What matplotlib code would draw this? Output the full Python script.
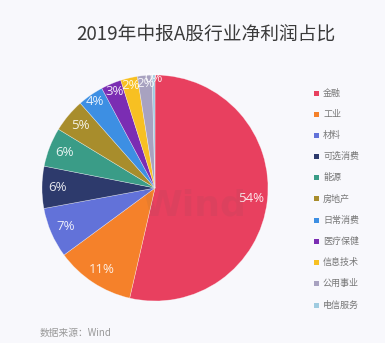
import matplotlib
matplotlib.use('Agg')
import matplotlib.pyplot as plt
import numpy as np
from matplotlib.patches import Rectangle

plt.rcParams['font.family'] = ['Noto Sans CJK SC', 'DejaVu Sans']

# net profit share by sector, 2019 interim reports
sectors = ['金融', '工业', '材料', '可选消费', '能源', '房地产',
           '日常消费', '医疗保健', '信息技术', '公用事业', '电信服务']
shares = [53.6, 11.3, 7.2, 6.0, 5.6, 4.8, 3.7, 2.9, 2.4, 2.1, 0.4]
colors = ['#e8405f', '#f5812a', '#6272d9', '#2d3a6c', '#3a9c87', '#a88d2c',
          '#3d8fe3', '#7b2db3', '#f7c022', '#a8a2c0', '#9fcbe0']

W, H = 385, 349
bg = '#f8f8fc'
fig = plt.figure(figsize=(W / 100, H / 100), dpi=100, facecolor=bg)

cx, cy, r = 155, 188, 113
ax = fig.add_axes([(cx - r) / W, (H - cy - r) / H, 2 * r / W, 2 * r / H])
ax.set_facecolor(bg)
wedges, texts, autotexts = ax.pie(
    shares, colors=colors, startangle=90, counterclock=False,
    autopct='%.0f%%', pctdistance=0.86,
    wedgeprops=dict(linewidth=0.4, edgecolor=(1, 1, 1, 0.5)),
    textprops=dict(color='white', fontsize=9.5))

# push the labels of the thin slices out toward the rim
for w, t, v in zip(wedges, autotexts, shares):
    t.set_alpha(0.88)
    t.set_family(['Open Sans', 'DejaVu Sans'])
    if v < 4.5:
        rad = 0.97 if v < 1 else 0.93
        ang = np.deg2rad((w.theta1 + w.theta2) / 2)
        t.set_position((rad * np.cos(ang), rad * np.sin(ang)))
ax.set_xlim(-1, 1)
ax.set_ylim(-1, 1)
ax.set_aspect('equal')
ax.axis('off')

# faint watermark
fig.text(195 / W, 1 - 205 / H, 'Wind', fontsize=26, color='#555555', alpha=0.08,
         ha='center', va='center', fontweight='bold', family=['DejaVu Sans'])

fig.text(206 / W, 1 - 34 / H, '2019年中报A股行业净利润占比', fontsize=13.5,
         color='#3a3a3a', ha='center', va='center')

# legend
for i, (name, c) in enumerate(zip(sectors, colors)):
    y = 93 + i * 21.2
    fig.add_artist(Rectangle((314 / W, 1 - (y + 2.5) / H), 5 / W, 5 / H,
                             transform=fig.transFigure, color=c, lw=0))
    fig.text(323 / W, 1 - y / H, name, fontsize=6.5, color='#777777',
             ha='left', va='center')

fig.text(40 / W, 1 - 333 / H, '数据来源：Wind', fontsize=7, color='#999999',
         ha='left', va='center')

fig.add_artist(Rectangle((0, 0), 1, 6 / H, transform=fig.transFigure,
                         color='white', lw=0))

fig.savefig('out.png', dpi=100, facecolor=bg)
